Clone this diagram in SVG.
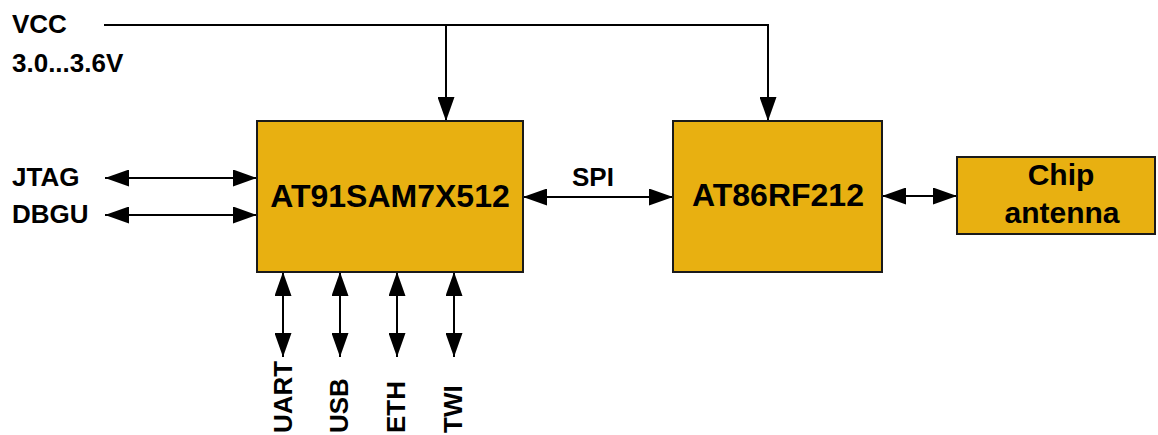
<svg xmlns="http://www.w3.org/2000/svg" width="1158" height="435" viewBox="0 0 1158 435">
<style>
text{font-family:"Liberation Sans",Arial,sans-serif;font-weight:bold;fill:#000}
.lbl{font-size:26px}
.big{font-size:32px}
.box{fill:#E8B011;stroke:#1a1a1a;stroke-width:2}
.ln{fill:none;stroke:#000;stroke-width:2}
</style>
<defs>
<marker id="ah" markerUnits="userSpaceOnUse" markerWidth="24" markerHeight="17" refX="24" refY="8.5" orient="auto-start-reverse" viewBox="0 0 24 17">
<path d="M0,0 L24,8.5 L0,17 z" fill="#000"/>
</marker>
</defs>
<g id="connectors">
<polyline class="ln" points="104,25 768,25 768,121" marker-end="url(#ah)"/>
<line class="ln" x1="446" y1="25" x2="446" y2="121" marker-end="url(#ah)"/>
<line class="ln" x1="105" y1="178" x2="257" y2="178" marker-start="url(#ah)" marker-end="url(#ah)"/>
<line class="ln" x1="105" y1="215" x2="257" y2="215" marker-start="url(#ah)" marker-end="url(#ah)"/>
<line class="ln" x1="523" y1="197" x2="673" y2="197" marker-start="url(#ah)" marker-end="url(#ah)"/>
<line class="ln" x1="882" y1="196" x2="957" y2="196" marker-start="url(#ah)" marker-end="url(#ah)"/>
<line class="ln" x1="283" y1="272" x2="283" y2="357" marker-start="url(#ah)" marker-end="url(#ah)"/>
<line class="ln" x1="340" y1="272" x2="340" y2="357" marker-start="url(#ah)" marker-end="url(#ah)"/>
<line class="ln" x1="397" y1="272" x2="397" y2="357" marker-start="url(#ah)" marker-end="url(#ah)"/>
<line class="ln" x1="454" y1="272" x2="454" y2="357" marker-start="url(#ah)" marker-end="url(#ah)"/>
</g>
<g id="labels">
<text class="lbl" x="12" y="33">VCC</text>
<text class="lbl" x="12" y="72">3.0...3.6V</text>
<text class="lbl" x="12" y="186">JTAG</text>
<text class="lbl" x="12" y="223">DBGU</text>
<text class="lbl" x="593" y="186" text-anchor="middle">SPI</text>
<text class="lbl" transform="translate(292,433) rotate(-90)">UART</text>
<text class="lbl" transform="translate(348,433) rotate(-90)">USB</text>
<text class="lbl" transform="translate(405,433) rotate(-90)">ETH</text>
<text class="lbl" transform="translate(462,433) rotate(-90)">TWI</text>
</g>
<g id="mcu">
<rect class="box" x="257" y="121" width="266" height="151"/>
<text class="big" x="390" y="207" text-anchor="middle">AT91SAM7X512</text>
</g>
<g id="rf">
<rect class="box" x="673" y="121" width="209" height="151"/>
<text class="big" x="778" y="206" text-anchor="middle">AT86RF212</text>
</g>
<g id="antenna">
<rect class="box" x="957" y="157" width="198" height="77"/>
<text x="1061" y="185" text-anchor="middle" style="font-size:30px">Chip</text>
<text x="1062" y="223" text-anchor="middle" style="font-size:30px">antenna</text>
</g>
</svg>
